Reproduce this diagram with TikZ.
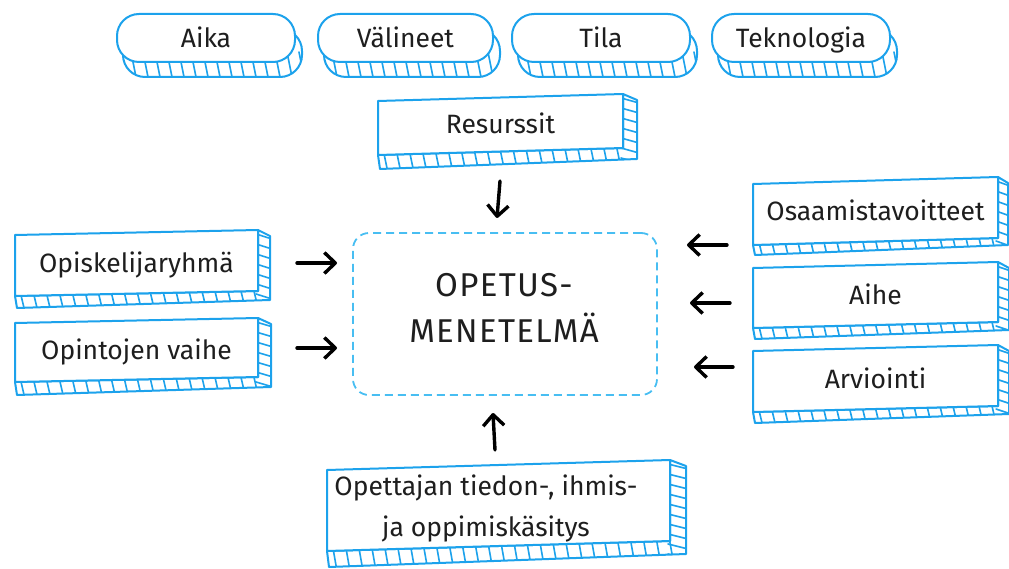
\documentclass[tikz,border=0pt]{standalone}
\usepackage{fontspec}
\setmainfont{Fira Sans}
\usetikzlibrary{arrows.meta,calc}

\definecolor{slabblue}{RGB}{28,162,236}
\definecolor{dashblue}{RGB}{72,190,242}
\definecolor{ink}{RGB}{30,30,30}

\tikzset{
  outline/.style={draw=slabblue, line width=2pt, line join=round, line cap=round},
  hatch/.style={draw=slabblue, line width=1.6pt, line cap=round},
  lbl/.style={font=\fontsize{26.5}{30}\selectfont, text=ink, inner sep=0pt,
              text height=19pt, text depth=0pt},
  lbltwo/.style={font=\fontsize{26.5}{41}\selectfont, text=ink, inner sep=0pt, align=center},
  arr/.style={draw=black, line width=3.4pt, line cap=round,
              -{Straight Barb[length=11pt,width=21pt,line join=round]}},
}

% Extruded box: name, x1, y1 (top right), x2, y2 (bottom left), tilt, depth, text
\newcommand\slab[8]{%
  \begin{scope}
    \path[fill=white] (#2,#5) -- (#2+2,#5+#7) -- (#4+#7,#5-#6+#7-3) -- (#4+#7,#3+6)
      -- (#4,#3) -- (#4,#5-#6) -- cycle;
    \begin{scope}
      \clip (#2,#5) -- (#2+2,#5+#7) -- (#4+#7,#5-#6+#7-3) -- (#4+#7,#3+6)
        -- (#4,#3) -- (#4,#5-#6) -- cycle;
      \pgfmathtruncatemacro\nb{(#4-#2)/13}
      \foreach \i in {0,...,\nb} \draw[hatch] (#2+4+13*\i,#5-#6-4) -- ++(6,#7+#6+8);
      \pgfmathtruncatemacro\nr{(#5-#3)/10}
      \foreach \j in {0,...,\nr} \draw[hatch] (#4-2,#3+4+10*\j) -- ++(#7+4,5);
    \end{scope}
    \draw[outline] (#2,#5) -- (#2+2,#5+#7) -- (#4+#7,#5-#6+#7-3) -- (#4+#7,#3+6)
      -- (#4,#3) -- (#4,#5-#6) -- cycle;
    \draw[outline, fill=white] (#2,#3+#6) -- (#4,#3) -- (#4,#5-#6) -- (#2,#5) -- cycle;
    \node[lbl] (#1) at ({(#2+#4)/2},{(#3+#5)/2}) {#8};
  \end{scope}
}

% Rounded pill with a hatched underside: name, x1, y1, x2, y2, text
\newcommand\pill[6]{%
  \begin{scope}
    \path[fill=white, rounded corners=22pt] (#2+6,#3+15) rectangle (#4+7,#5+15);
    \begin{scope}
      \clip[rounded corners=22pt] (#2+6,#3+15) rectangle (#4+7,#5+15);
      \pgfmathtruncatemacro\nb{(#4-#2)/12+1}
      \foreach \i in {0,...,\nb} \draw[hatch] (#2+2+12*\i,#5-10) -- ++(6,30);
    \end{scope}
    \draw[outline, rounded corners=22pt] (#2+6,#3+15) rectangle (#4+7,#5+15);
    \draw[outline, fill=white, rounded corners=22pt] (#2,#3) rectangle (#4,#5);
    \node[lbl] (#1) at ({(#2+#4)/2},{(#3+#5)/2}) {#6};
  \end{scope}
}

\begin{document}
\begin{tikzpicture}[x=1pt, y=-1pt]
  \useasboundingbox (0,0) rectangle (1009,569);

  % top row of pills
  \pill{aika}{117}{14}{295}{62}{Aika}
  \pill{valineet}{318}{14}{493}{62}{Välineet}
  \pill{tila}{512}{14}{690}{62}{Tila}
  \pill{tekno}{712}{14}{890}{62}{Teknologia}

  % surrounding factors
  \slab{resurssit}{378}{94}{623}{155}{7}{14}{Resurssit}
  \slab{opis}{15}{230}{258}{296}{5}{12}{Opiskelijaryhmä}
  \slab{vaihe}{15}{318}{258}{382}{5}{13}{Opintojen vaihe}
  \slab{osaam}{753}{177}{998}{245}{7}{10}{Osaamistavoitteet}
  \slab{aihe}{753}{262}{998}{328}{6}{11}{Aihe}
  \slab{arv}{753}{345}{998}{412}{6}{11}{Arviointi}
  \slab{kasitys}{327}{460}{670}{551}{10}{16}{}
  \node[lbltwo] (kasitysteksti) at (486,508) {Opettajan tiedon-, ihmis-\\ja oppimiskäsitys};

  % central box
  \node[draw=dashblue, line width=1.8pt, dash pattern=on 8pt off 5pt,
        rounded corners=16pt, minimum width=304pt, minimum height=162pt,
        inner sep=0pt] (ctr) at (505,314) {};
  \node[font=\fontsize{33}{46}\selectfont\addfontfeatures{LetterSpace=4},
        text=ink, align=center, inner sep=0pt] (ctrlabel) at (504,308)
        {OPETUS-\\MENETELMÄ};

  % arrow ends
  \coordinate (l1s) at (297,263); \coordinate (l1e) at (337,263);
  \coordinate (l2s) at (297,348); \coordinate (l2e) at (337,348);
  \coordinate (r1s) at (727,245); \coordinate (r1e) at (687,245);
  \coordinate (r2s) at (730,303); \coordinate (r2e) at (690,303);
  \coordinate (r3s) at (733,367); \coordinate (r3e) at (694,367);
  \coordinate (ts) at (500,181);  \coordinate (te) at (497,218);
  \coordinate (bs) at (495,450);  \coordinate (be) at (493,413);

  \draw[arr] (l1s) -- (l1e);
  \draw[arr] (l2s) -- (l2e);
  \draw[arr] (r1s) -- (r1e);
  \draw[arr] (r2s) -- (r2e);
  \draw[arr] (r3s) -- (r3e);
  \draw[arr] (ts) -- (te);
  \draw[arr] (bs) -- (be);
\end{tikzpicture}
\end{document}
